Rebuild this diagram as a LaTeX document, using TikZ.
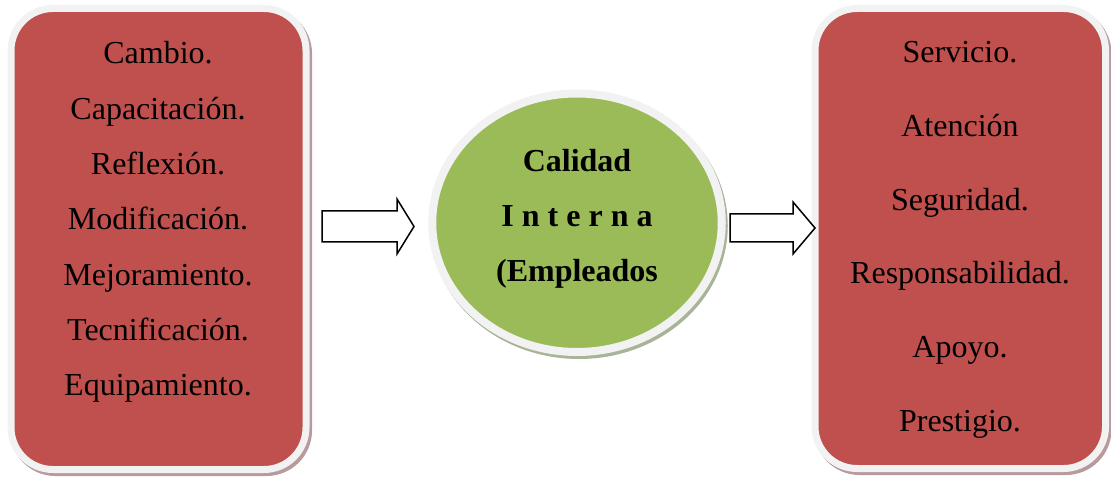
\documentclass[tikz,border=0pt]{standalone}
\usepackage{fontspec}
\setmainfont{Liberation Serif}
\usetikzlibrary{shapes.geometric,shadows}
\definecolor{boxred}{HTML}{C0504D}
\definecolor{circgreen}{HTML}{9BBB59}
\definecolor{rimgray}{HTML}{F2F2F2}
\definecolor{redshadow}{HTML}{B89A9C}
\definecolor{greenshadow}{HTML}{A8B498}
\tikzset{
  listbox/.style={rectangle, fill=boxred, draw=rimgray, line width=7pt, rounded corners=42pt,
    drop shadow={shadow xshift=2.5pt, shadow yshift=-3pt, draw=redshadow, fill=redshadow, line width=7pt, opacity=1}},
  hub/.style={ellipse, fill=circgreen, draw=rimgray, line width=8pt,
    drop shadow={shadow xshift=2pt, shadow yshift=-3pt, draw=greenshadow, fill=greenshadow, line width=8pt, opacity=1}},
  item/.style={anchor=base, inner sep=0pt, font=\fontsize{32}{38}\selectfont},
  hubtext/.style={anchor=base, inner sep=0pt, font=\fontsize{32}{38}\selectfont\bfseries},
  blockarrow/.style={draw=black, line width=1.5pt, fill=white, line join=miter}
}
\begin{document}
\begin{tikzpicture}[x=1pt,y=-1pt]
\useasboundingbox (0,0) rectangle (1111,481);
% boxes
\node[listbox, minimum width=295pt, minimum height=461pt] (L) at (158.5,239) {};
\node[listbox, minimum width=290.5pt, minimum height=460pt] (R) at (960.25,238.5) {};
\node[hub, minimum width=289.5pt, minimum height=258.5pt] (C) at (577,222.75) {};
% block arrows (tail centres)
\coordinate (a1) at (322,226.5);
\coordinate (a2) at (730,228);
\draw[blockarrow, shift={(a1)}] (0,-15.5) -- (75,-15.5) -- (75,-27.5) -- (92,0) -- (75,27.5) -- (75,15.5) -- (0,15.5) -- cycle;
\draw[blockarrow, shift={(a2)}] (0,-14) -- (63,-14) -- (63,-26) -- (85,0) -- (63,26) -- (63,14) -- (0,14) -- cycle;
% left texts
\node[item] (l1) at (158,64) {Cambio.};
\node[item] (l2) at (158,119.3) {Capacitación.};
\node[item] (l3) at (158,174.6) {Reflexión.};
\node[item] (l4) at (158,229.9) {Modificación.};
\node[item] (l5) at (158,285.2) {Mejoramiento.};
\node[item] (l6) at (158,340.5) {Tecnificación.};
\node[item] (l7) at (158,395.8) {Equipamiento.};
% center texts
\node[hubtext] (c1) at (577,172) {Calidad};
\node[hubtext] (c2) at (577,227) {I n t e r n a};
\node[hubtext] (c3) at (577,281) {(Empleados};
% right texts
\node[item] (r1) at (960,63) {Servicio.};
\node[item] (r2) at (960,136.6) {Atención};
\node[item] (r3) at (960,210.2) {Seguridad.};
\node[item] (r4) at (960,283.8) {Responsabilidad.};
\node[item] (r5) at (960,357.4) {Apoyo.};
\node[item] (r6) at (960,431) {Prestigio.};
\end{tikzpicture}
\end{document}
